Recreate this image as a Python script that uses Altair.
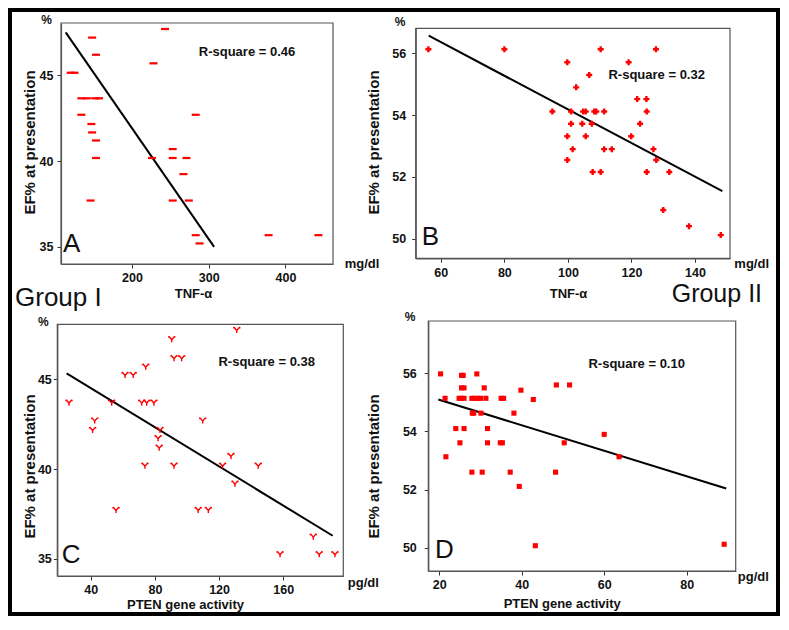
import altair as alt
import pandas as pd

# ---------------- data ----------------
# Panel A (Group I): TNF-alpha vs EF%
a_tnf = [243, 148, 153, 228, 120, 125, 134, 141, 152, 157, 134, 147, 148, 153, 153, 146,
         226, 253, 253, 271, 267, 253, 274, 283, 283, 288, 378, 443]
a_ef = [47.7, 47.2, 46.2, 45.7, 45.15, 45.15, 43.66, 43.66, 43.66, 43.66, 42.7, 42.16, 41.67, 41.2, 40.18, 37.7,
        40.18, 40.7, 40.18, 40.18, 39.24, 37.7, 37.7, 42.7, 35.68, 35.2, 35.68, 35.68]
a_fit_x = [113.5, 307]
a_fit_y = [47.5, 35.0]

# Panel B (Group II): TNF-alpha vs EF%
b_tnf = [56.1, 80, 110.3, 127.7, 99.8, 119.1, 106.7, 102.6, 121.8, 124.7,
         95.1, 101, 104.8, 105.6, 108.3, 108.9, 111.4, 124.8,
         101, 104.5, 107.5, 122.7, 99.8, 105.6, 119.9,
         101.5, 111.4, 113.8, 126.9, 99.8, 127.8,
         107.8, 110.3, 124.8, 131.9, 130, 138.1, 148.1]
b_ef = [56.13, 56.13, 56.13, 56.13, 55.71, 55.71, 55.3, 54.9, 54.52, 54.52,
        54.12, 54.12, 54.12, 54.12, 54.12, 54.12, 54.12, 54.12,
        53.72, 53.72, 53.72, 53.72, 53.32, 53.32, 53.32,
        52.9, 52.9, 52.9, 52.9, 52.55, 52.55,
        52.16, 52.16, 52.16, 52.16, 50.93, 50.41, 50.12]
b_fit_x = [56.2, 148.6]
b_fit_y = [56.57, 51.54]

# Panel C (Group I): PTEN gene activity vs EF%
c_pten = [131, 90.5, 91.9, 96.7, 74.3, 61.4, 66.5, 26.5, 53.1, 71.8, 74.9, 79.4, 42.5, 41.2, 109.8, 83.2,
          82, 82.7, 73.8, 91.9, 122.2, 127.4, 144.4, 129.9, 55.8, 107, 113.3, 178.7, 158, 182.4, 192.2]
c_ef = [47.74, 47.23, 46.17, 46.17, 45.70, 45.24, 45.24, 43.7, 43.7, 43.7, 43.7, 43.7, 42.7, 42.18, 42.7, 42.18,
        41.72, 41.19, 40.19, 40.19, 40.19, 40.73, 40.19, 39.19, 37.72, 37.72, 37.72, 36.24, 35.26, 35.26, 35.26]
c_fit_x = [25.0, 190.8]
c_fit_y = [45.33, 36.29]

# Panel D (Group II): PTEN gene activity vs EF%
d_pten = [20.3, 29.1, 25.4, 25.8, 30.9, 25.4, 26.0, 21.4, 24.8, 25.4, 26.0, 27.9, 28.5, 29.3, 30.0, 31.3,
          35.0, 35.6, 42.8, 39.8, 48.4, 51.6, 28.0, 28.35, 30.1, 38.1, 24.0, 26.0, 31.7, 25.0, 31.7, 34.8,
          35.3, 50.3, 60.0, 63.6, 21.6, 27.9, 30.4, 37.2, 48.2, 39.4, 43.3, 89.1]
d_ef = [55.98, 55.98, 55.93, 55.93, 55.5, 55.5, 55.5, 55.14, 55.14, 55.14, 55.14, 55.14, 55.14, 55.14, 55.14, 55.14,
        55.14, 55.14, 55.1, 55.42, 55.6, 55.6, 54.63, 54.63, 54.63, 54.63, 54.1, 54.1, 54.1, 53.61, 53.61, 53.61,
        53.61, 53.61, 53.9, 53.13, 53.13, 52.6, 52.6, 52.6, 52.6, 52.11, 50.07, 50.12]
d_fit_x = [19.76, 89.6]
d_fit_y = [55.1, 52.04]

# axis ticks / domains
a_xticks, a_yticks = [200, 300, 400], [35, 40, 45]
b_xticks, b_yticks = [60, 80, 100, 120, 140], [50, 52, 54, 56]
c_xticks, c_yticks = [40, 80, 120, 160], [35, 40, 45]
d_xticks, d_yticks = [20, 40, 60, 80], [50, 52, 54, 56]

a_xdom, a_ydom = [107.4, 462], [34.0, 48.05]
b_xdom, b_ydom = [52.1, 151], [49.37, 56.81]
c_xdom, c_ydom = [19.2, 197.4], [34.05, 48.06]
d_xdom, d_ydom = [17.33, 91.9], [49.2, 57.8]

# ---------------- layout ----------------
W, H = 772, 608
FONT = "Liberation Sans"
TXT = "#111111"

BOX_A = (53, 15, 325, 256)
BOX_B = (407.7, 20.3, 722, 250.3)
BOX_C = (49.3, 316.3, 335.3, 568)
BOX_D = (420.3, 313, 727.7, 563)


def make_panel(xv, yv, fx, fy, xdom, ydom, box, xticks, yticks, mark_kw,
               xtitle, xtitle_pos, ytitle_pos, xlabpad, ylabpad):
    left, top, right, bottom = box
    pts = pd.DataFrame({"x": xv, "y": yv})
    fit = pd.DataFrame({"x": fx, "y": fy})

    xs = alt.Scale(domain=xdom, range=[left, right], nice=False, zero=False)
    ys = alt.Scale(domain=ydom, range=[bottom, top], nice=False, zero=False)
    xaxis = alt.Axis(orient="bottom", offset=bottom - H, values=xticks, grid=False,
                     domain=True, domainColor="#555555", domainWidth=1.2,
                     tickSize=4, tickColor="#333333", tickWidth=1,
                     labelFont=FONT, labelFontSize=12.5, labelFontWeight="bold", labelColor=TXT,
                     labelPadding=xlabpad, labelFlush=False, labelOverlap=False, format="d",
                     title=xtitle, titleFont=FONT, titleFontSize=13, titleFontWeight="bold",
                     titleColor=TXT, titleX=xtitle_pos[0], titleY=xtitle_pos[1],
                     titleAlign="center", titleBaseline="middle")
    yaxis = alt.Axis(orient="left", offset=-left, values=yticks, grid=False,
                     domain=True, domainColor="#555555", domainWidth=1.2,
                     tickSize=4, tickColor="#333333", tickWidth=1,
                     labelFont=FONT, labelFontSize=12.5, labelFontWeight="bold", labelColor=TXT,
                     labelPadding=ylabpad, labelFlush=False, labelOverlap=False, format="d",
                     title="EF% at presentation", titleFont=FONT, titleFontSize=15,
                     titleFontWeight="bold", titleColor=TXT, titleAngle=270,
                     titleX=ytitle_pos[0], titleY=ytitle_pos[1],
                     titleAlign="center", titleBaseline="middle")
    X = alt.X("x:Q", scale=xs, axis=xaxis)
    Y = alt.Y("y:Q", scale=ys, axis=yaxis)

    line_l = alt.Chart(fit).mark_line(color="black", strokeWidth=2).encode(x=X, y=Y)
    pts_l = alt.Chart(pts).mark_point(color="red", opacity=1, **mark_kw).encode(x=X, y=Y)
    return alt.layer(line_l, pts_l)


def frame(box):
    left, top, right, bottom = box
    return alt.Chart(pd.DataFrame({"f": [0]})).mark_rect(
        fill="transparent", stroke="#555555", strokeWidth=1.2
    ).encode(x=alt.value(left), x2=alt.value(right), y=alt.value(top), y2=alt.value(bottom))


dash = "M-1,-0.28H1V0.28H-1Z"
yshape = "M-1,-1L0,0.15L1,-1M0,0.15L0,1M-1,-1L-1,-0.5M1,-1L1,-0.5"

pA = make_panel(a_tnf, a_ef, a_fit_x, a_fit_y, a_xdom, a_ydom, BOX_A,
                a_xticks, a_yticks, dict(shape=dash, size=64, filled=True, strokeWidth=0),
                "TNF-α", (185, 29), (-32, 134), 3, 4)
pB = make_panel(b_tnf, b_ef, b_fit_x, b_fit_y, b_xdom, b_ydom, BOX_B,
                b_xticks, b_yticks, dict(shape="cross", size=36, filled=True, strokeWidth=0),
                "TNF-α", (560, 35), (-42.7, 134), 4, 6)
pC = make_panel(c_pten, c_ef, c_fit_x, c_fit_y, c_xdom, c_ydom, BOX_C,
                c_xticks, c_yticks, dict(shape=yshape, size=36, filled=False, strokeWidth=1.4),
                "PTEN gene activity", (177, 28.5), (-28, 458), 3, 2)
pD = make_panel(d_pten, d_ef, d_fit_x, d_fit_y, d_xdom, d_ydom, BOX_D,
                d_xticks, d_yticks, dict(shape="square", size=26, filled=True, strokeWidth=0),
                "PTEN gene activity", (553.7, 32.5), (-55, 458), 3, 8)


def txt(text, x, y, size=13, weight="bold", align="center", baseline="middle"):
    return alt.Chart(pd.DataFrame({"t": [text]})).mark_text(
        font=FONT, fontSize=size, fontWeight=weight, align=align, baseline=baseline, color=TXT
    ).encode(x=alt.value(x), y=alt.value(y), text="t:N")


texts = [
    # panel A
    txt("%", 38.7, 12, size=12), txt("mg/dl", 354, 256), txt("R-square = 0.46", 239, 44),
    txt("A", 55, 244, size=26, weight="normal", align="left", baseline="alphabetic"),
    txt("Group I", 7, 298, size=26, weight="normal", align="left", baseline="alphabetic"),
    # panel B
    txt("%", 392, 13.7, size=12), txt("mg/dl", 743.7, 256.3), txt("R-square = 0.32", 648.7, 67),
    txt("B", 413.7, 237, size=26, weight="normal", align="left", baseline="alphabetic"),
    txt("Group II", 663.7, 293.5, size=25, weight="normal", align="left", baseline="alphabetic"),
    # panel C
    txt("%", 35.3, 313.7, size=12), txt("pg/dl", 355.3, 575.3), txt("R-square = 0.38", 258.7, 353.7),
    txt("C", 53.7, 555.3, size=26, weight="normal", align="left", baseline="alphabetic"),
    # panel D
    txt("%", 402, 308.7, size=12), txt("pg/dl", 745.3, 568.7), txt("R-square = 0.10", 628.7, 356.3),
    txt("D", 427, 550.3, size=26, weight="normal", align="left", baseline="alphabetic"),
]

border = alt.Chart(pd.DataFrame({"b": [0]})).mark_rect(
    fill="transparent", stroke="black", strokeWidth=4
).encode(x=alt.value(2), x2=alt.value(W - 2), y=alt.value(2), y2=alt.value(H - 2))

frames = [frame(BOX_A), frame(BOX_B), frame(BOX_C), frame(BOX_D)]

chart = alt.layer(border, *frames, pA, pB, pC, pD, *texts).resolve_scale(
    x="independent", y="independent"
).resolve_axis(
    x="independent", y="independent"
).properties(
    width=W, height=H, padding=0, autosize=alt.AutoSizeParams(type="none"),
    background="white"
).configure_view(stroke=None)

chart.save("out.html", embed_options={"renderer": "svg", "actions": False})
